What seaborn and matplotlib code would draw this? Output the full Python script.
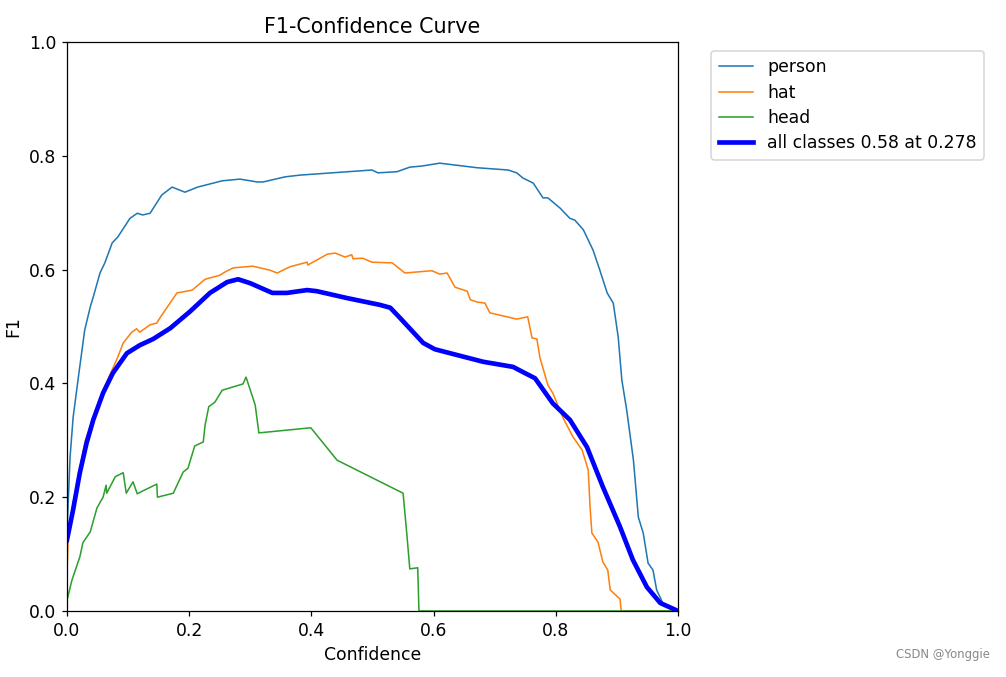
import matplotlib
matplotlib.use("Agg")
import matplotlib.pyplot as plt
import numpy as np
import pandas as pd
import seaborn as sns

# curves
person_x = [0.0, 0.005, 0.01, 0.018, 0.029, 0.038, 0.043, 0.054, 0.062, 0.074, 0.083, 0.103, 0.115, 0.124, 0.136,
            0.155, 0.172, 0.193, 0.214, 0.254, 0.283, 0.311, 0.321, 0.357, 0.381, 0.499, 0.509, 0.540, 0.561, 0.581,
            0.610, 0.671, 0.722, 0.736, 0.746, 0.763, 0.779, 0.787, 0.807, 0.823, 0.831, 0.845, 0.861, 0.872, 0.884,
            0.894, 0.902, 0.908, 0.916, 0.927, 0.935, 0.943, 0.951, 0.959, 0.965, 0.975, 1.0]
person_y = [0.14, 0.27, 0.34, 0.406, 0.494, 0.534, 0.552, 0.594, 0.612, 0.647, 0.657, 0.690, 0.699, 0.696, 0.699,
            0.731, 0.745, 0.736, 0.745, 0.756, 0.759, 0.754, 0.754, 0.763, 0.766, 0.775, 0.770, 0.772, 0.780, 0.782,
            0.787, 0.779, 0.775, 0.770, 0.761, 0.752, 0.726, 0.726, 0.708, 0.690, 0.687, 0.670, 0.634, 0.599, 0.559,
            0.541, 0.482, 0.406, 0.353, 0.265, 0.165, 0.137, 0.084, 0.072, 0.037, 0.014, 0.0]

hat_x = [0.0, 0.002, 0.01, 0.03, 0.06, 0.083, 0.092, 0.106, 0.114, 0.119, 0.136, 0.147, 0.152, 0.180, 0.196,
         0.205, 0.226, 0.250, 0.259, 0.272, 0.304, 0.332, 0.344, 0.365, 0.393, 0.394, 0.426, 0.439, 0.455, 0.466,
         0.468, 0.484, 0.499, 0.525, 0.532, 0.553, 0.597, 0.610, 0.622, 0.635, 0.655, 0.660, 0.671, 0.684, 0.692,
         0.736, 0.754, 0.761, 0.769, 0.774, 0.787, 0.795, 0.812, 0.828, 0.843, 0.853, 0.856, 0.859, 0.869, 0.877,
         0.885, 0.889, 0.905, 0.907, 1.0]
hat_y = [0.067, 0.13, 0.19, 0.30, 0.39, 0.446, 0.471, 0.490, 0.496, 0.490, 0.503, 0.506, 0.515, 0.559, 0.562,
         0.564, 0.583, 0.590, 0.596, 0.603, 0.606, 0.599, 0.594, 0.605, 0.613, 0.608, 0.627, 0.629, 0.622, 0.626,
         0.619, 0.620, 0.613, 0.612, 0.612, 0.594, 0.598, 0.592, 0.594, 0.569, 0.562, 0.547, 0.543, 0.541, 0.524,
         0.513, 0.517, 0.480, 0.478, 0.445, 0.397, 0.383, 0.339, 0.306, 0.283, 0.248, 0.183, 0.137, 0.121, 0.086,
         0.072, 0.037, 0.021, 0.0, 0.0]

head_x = [0.0, 0.008, 0.021, 0.026, 0.038, 0.049, 0.059, 0.064, 0.065, 0.079, 0.092, 0.097, 0.108, 0.115, 0.124,
          0.147, 0.148, 0.174, 0.180, 0.190, 0.198, 0.209, 0.223, 0.226, 0.232, 0.242, 0.254, 0.288, 0.293, 0.308,
          0.314, 0.399, 0.442, 0.550, 0.556, 0.561, 0.574, 0.576, 1.0]
head_y = [0.019, 0.054, 0.095, 0.120, 0.139, 0.181, 0.200, 0.221, 0.207, 0.236, 0.243, 0.207, 0.227, 0.206, 0.211,
          0.223, 0.200, 0.207, 0.221, 0.244, 0.251, 0.290, 0.297, 0.327, 0.359, 0.367, 0.388, 0.399, 0.411, 0.362,
          0.313, 0.322, 0.265, 0.207, 0.137, 0.074, 0.076, 0.0, 0.0]

all_x = [0.0, 0.010, 0.021, 0.032, 0.043, 0.059, 0.075, 0.098, 0.119, 0.141, 0.169, 0.201, 0.234, 0.262, 0.280,
         0.300, 0.336, 0.360, 0.393, 0.409, 0.458, 0.512, 0.529, 0.545, 0.583, 0.602, 0.627, 0.681, 0.730, 0.746,
         0.766, 0.795, 0.823, 0.851, 0.877, 0.905, 0.926, 0.949, 0.971, 1.0]
all_y = [0.125, 0.178, 0.243, 0.295, 0.336, 0.383, 0.418, 0.453, 0.467, 0.478, 0.497, 0.526, 0.559, 0.578, 0.583,
         0.576, 0.559, 0.559, 0.564, 0.562, 0.550, 0.538, 0.533, 0.515, 0.471, 0.460, 0.453, 0.438, 0.429, 0.420,
         0.409, 0.365, 0.336, 0.288, 0.218, 0.148, 0.090, 0.042, 0.014, 0.0]

class_names = ['person', 'hat', 'head']
all_label = 'all classes 0.58 at 0.278'


plt.rcParams['font.size'] = 11.1

dpi = 111.78
fig, ax = plt.subplots(figsize=(1006 / dpi, 677 / dpi), dpi=dpi)
fig.subplots_adjust(left=0.0666, right=0.674, bottom=0.0975, top=0.938)

curves = [(person_x, person_y), (hat_x, hat_y), (head_x, head_y)]
for i, (cx, cy) in enumerate(curves):
    sns.lineplot(x=cx, y=cy, ax=ax, color='C%d' % i, linewidth=1, label=class_names[i],
                 estimator=None, sort=False)

sns.lineplot(x=all_x, y=all_y, ax=ax, color='blue', linewidth=3, label=all_label,
             estimator=None, sort=False)

ax.set_xlim(0, 1)
ax.set_ylim(0, 1)
ax.set_xlabel('Confidence')
ax.set_ylabel('F1')
ax.set_title('F1-Confidence Curve')
ax.legend(bbox_to_anchor=(1.04, 1), loc='upper left', labelspacing=0.42, borderpad=0.45)

fig.text(0.984, 0.024, 'CSDN @Yonggie', ha='right', va='bottom', color='#888888', fontsize=7.5)

fig.savefig('out.png', dpi=dpi)
